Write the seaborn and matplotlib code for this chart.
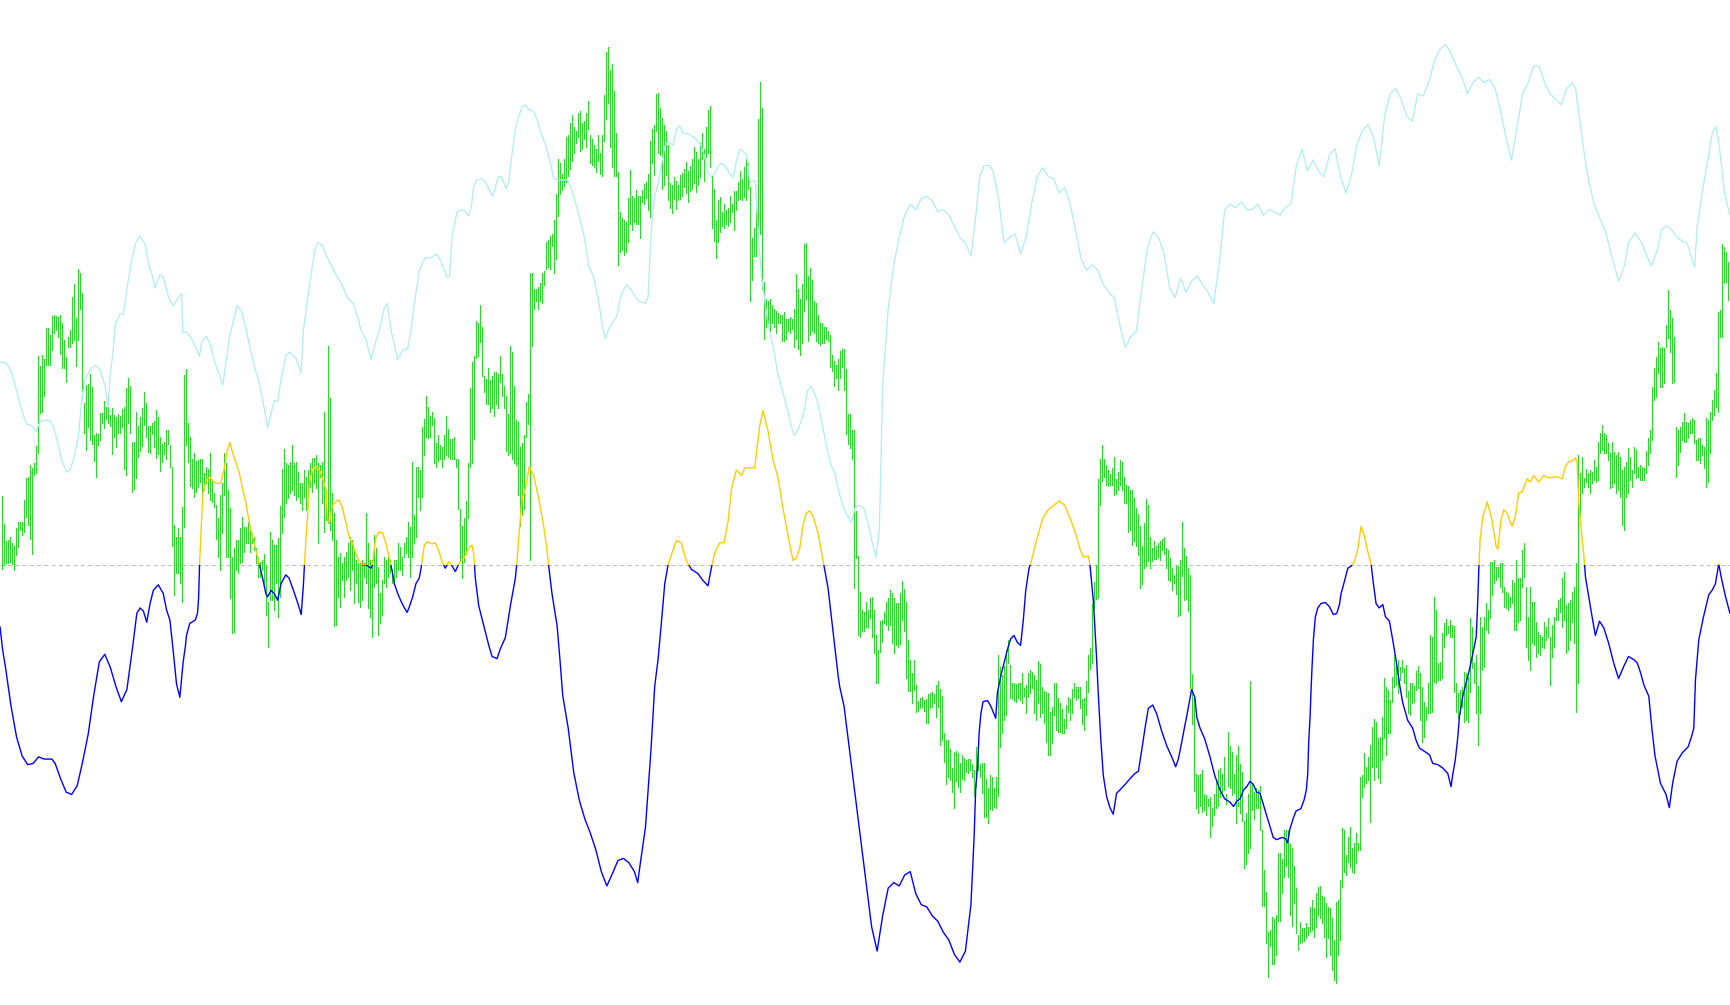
import numpy as np
import pandas as pd
import seaborn as sns
import matplotlib.pyplot as plt
from matplotlib.patches import Rectangle

W, H = 1730, 1005

# price bars, top / bottom (0 = top edge)
# even_* = bars 0, 2, 4, ... ; odd_* = the bars in between
even_top = [
    496, 541, 537, 546, 522, 522, 478, 465, 463, 356, 355, 328, 335, 315, 317, 323, 357, 330, 284, 269,
    293, 385, 374, 435, 434, 413, 407, 415, 415, 414, 409, 388, 386, 442, 426, 408, 403, 426, 421, 417,
    444, 430, 445, 525, 528, 507, 369, 437, 453, 460, 459, 467, 453, 493,
    518, 483, 463, 508, 548, 540, 517, 527, 530, 537, 557, 560, 565, 532, 545, 538, 469, 463, 462, 463,
    472, 483, 477, 463, 458, 463, 462, 490, 398, 513, 557, 563, 552, 537, 548, 563, 560, 513, 560, 535,
    567, 580, 560, 560, 560, 543, 557, 537, 527, 515, 467, 427, 396, 416,
    418, 435, 447, 416, 439, 437, 459, 526, 501, 388, 356, 323, 327, 379, 380, 372, 374, 374, 396, 346,
    386, 422, 443, 402, 273, 289, 287, 273, 242, 236, 220, 159, 174, 137, 123, 127, 113, 123, 113, 135,
    145, 135, 135, 52, 70, 91, 172, 218, 222, 170, 198, 196, 190, 182,
    141, 125, 93, 118, 131, 183, 177, 185, 173, 162, 166, 147, 159, 133, 127, 106, 189, 200, 212, 210,
    196, 191, 182, 179, 159, 187, 228, 119, 108, 299, 299, 309, 313, 315, 319, 317, 309, 289, 284, 243,
    268, 301, 315, 323, 327, 335, 361, 359, 349, 369, 414, 430, 556, 610,
    602, 598, 610, 650, 620, 602, 590, 598, 603, 581, 602, 660, 660, 701, 697, 699, 693, 694, 681, 696,
    740, 749, 752, 753, 755, 760, 759, 770, 747, 763, 779, 775, 788, 655, 675, 650, 665, 683, 683, 673,
    685, 670, 675, 661, 687, 692, 712, 683, 698, 709, 705, 699, 683, 687,
    699, 681, 648, 582, 479, 445, 465, 474, 457, 472, 462, 485, 490, 498, 514, 546, 499, 537, 541, 543,
    539, 548, 558, 575, 566, 522, 556, 575, 695, 775, 770, 795, 797, 794, 770, 774, 794, 746, 774, 746,
    772, 813, 681, 792, 790, 830, 892, 930, 919, 853, 859, 830, 844, 866,
    935, 928, 923, 907, 908, 887, 896, 903, 908, 940, 900, 828, 855, 827, 843, 843, 775, 767, 745, 719,
    738, 717, 687, 700, 655, 660, 660, 665, 683, 686, 666, 687, 707, 635, 597, 663, 633, 619, 620, 626,
    693, 687, 673, 618, 663, 686, 627, 603, 562, 560, 567, 563, 592, 597,
    583, 578, 550, 587, 587, 602, 632, 637, 627, 637, 617, 600, 578, 605, 600, 587, 455, 457, 469, 470,
    460, 442, 425, 435, 453, 452, 452, 470, 462, 457, 447, 467, 467, 451, 430, 368, 342, 347, 325, 310,
    337, 430, 422, 422, 420, 420, 438, 445, 418, 412, 390, 312, 244, 252, 280,
]
even_bot = [
    569, 563, 562, 570, 547, 535, 517, 539, 475, 453, 412, 365, 365, 333, 337, 368, 382, 347, 340, 340,
    398, 450, 440, 461, 445, 423, 419, 426, 437, 433, 427, 475, 433, 489, 457, 446, 437, 453, 447, 454,
    462, 459, 467, 595, 573, 602, 445, 486, 497, 487, 495, 483, 500, 507,
    557, 533, 557, 598, 632, 573, 562, 543, 552, 550, 577, 570, 615, 600, 610, 617, 533, 503, 493, 495,
    497, 510, 510, 487, 483, 543, 503, 520, 530, 626, 597, 580, 580, 590, 603, 602, 600, 583, 617, 587,
    635, 615, 587, 573, 583, 570, 575, 553, 577, 543, 497, 497, 437, 437,
    463, 461, 467, 455, 459, 459, 509, 578, 554, 467, 439, 356, 376, 404, 412, 416, 408, 396, 451, 453,
    463, 495, 515, 437, 560, 309, 309, 303, 269, 269, 273, 216, 190, 182, 169, 153, 137, 149, 147, 163,
    167, 161, 176, 119, 147, 176, 265, 250, 252, 224, 222, 224, 202, 198,
    217, 175, 153, 189, 175, 208, 199, 200, 196, 193, 191, 183, 185, 159, 157, 167, 241, 242, 226, 224,
    222, 230, 200, 200, 200, 301, 256, 228, 289, 327, 331, 327, 323, 341, 339, 333, 347, 349, 343, 299,
    335, 333, 343, 343, 339, 367, 386, 390, 367, 434, 448, 588, 635, 631,
    627, 618, 653, 683, 642, 625, 625, 653, 647, 620, 678, 691, 690, 711, 707, 723, 708, 703, 707, 740,
    784, 780, 808, 787, 779, 772, 770, 796, 770, 793, 817, 809, 807, 796, 733, 715, 698, 701, 698, 703,
    713, 693, 713, 703, 713, 742, 755, 715, 732, 733, 728, 720, 697, 698,
    724, 715, 669, 609, 598, 481, 485, 485, 495, 490, 490, 503, 530, 541, 555, 584, 566, 568, 559, 557,
    550, 568, 581, 583, 616, 576, 599, 688, 791, 813, 812, 815, 837, 815, 806, 795, 804, 788, 793, 806,
    821, 864, 848, 819, 808, 906, 943, 946, 964, 921, 893, 866, 915, 903,
    950, 942, 938, 932, 937, 915, 923, 957, 955, 980, 955, 887, 875, 867, 873, 850, 797, 783, 822, 780,
    778, 760, 755, 733, 687, 693, 672, 697, 715, 702, 688, 742, 720, 713, 682, 680, 678, 635, 637, 692,
    718, 707, 720, 692, 683, 745, 670, 630, 618, 583, 577, 592, 608, 607,
    630, 622, 587, 647, 670, 645, 653, 647, 640, 685, 647, 620, 627, 653, 640, 643, 683, 493, 482, 493,
    480, 480, 450, 453, 488, 483, 490, 525, 497, 480, 473, 477, 480, 473, 453, 400, 373, 387, 347, 352,
    382, 465, 440, 442, 433, 443, 460, 455, 487, 453, 415, 412, 337, 282, 307,
]
odd_top = [
    524, 540, 543, 528, 522, 500, 477, 468, 446, 366, 359, 328, 316, 316, 315, 340, 337, 297, 318, 273,
    403, 384, 387, 433, 413, 401, 397, 408, 417, 416, 407, 378, 442, 412, 417, 392, 426, 423, 410, 437,
    442, 430, 467, 537, 537, 375, 423, 459, 461, 459, 473, 469, 480, 505,
    495, 453, 490, 557, 540, 528, 527, 522, 533, 548, 562, 554, 602, 540, 545, 506, 449, 465, 445, 462,
    483, 470, 470, 458, 455, 465, 412, 346, 493, 540, 553, 557, 543, 540, 560, 563, 563, 543, 560, 548,
    593, 557, 557, 570, 560, 547, 543, 522, 462, 467, 470, 419, 407, 412,
    443, 445, 435, 429, 439, 459, 509, 518, 463, 362, 321, 305, 376, 368, 376, 372, 356, 386, 414, 352,
    420, 447, 435, 394, 273, 289, 283, 271, 240, 234, 194, 163, 159, 135, 115, 131, 111, 121, 101, 139,
    149, 153, 95, 47, 64, 133, 212, 220, 198, 196, 190, 196, 184, 174,
    129, 94, 108, 125, 145, 185, 181, 175, 169, 171, 159, 152, 143, 149, 110, 175, 220, 197, 204, 208,
    204, 191, 171, 167, 163, 238, 210, 82, 282, 301, 305, 311, 315, 312, 319, 319, 274, 299, 244, 276,
    280, 303, 323, 327, 331, 355, 365, 351, 349, 414, 430, 511, 592, 612,
    610, 597, 635, 621, 612, 598, 593, 603, 593, 589, 640, 673, 685, 698, 700, 694, 692, 685, 689, 733,
    740, 768, 751, 763, 758, 759, 764, 747, 764, 763, 788, 777, 777, 667, 666, 640, 683, 684, 683, 688,
    673, 672, 680, 664, 691, 693, 707, 683, 703, 719, 697, 689, 687, 687,
    698, 655, 604, 565, 459, 459, 470, 468, 479, 460, 477, 486, 490, 508, 526, 523, 505, 548, 546, 541,
    537, 550, 568, 565, 560, 548, 568, 674, 774, 774, 794, 799, 808, 781, 768, 757, 732, 752, 755, 764,
    821, 794, 784, 788, 786, 870, 932, 917, 915, 853, 830, 830, 848, 888,
    922, 928, 927, 900, 893, 886, 897, 907, 918, 902, 880, 830, 837, 848, 833, 777, 753, 757, 727, 722,
    737, 678, 690, 677, 662, 667, 668, 691, 683, 671, 673, 702, 683, 637, 610, 662, 623, 626, 625, 683,
    690, 672, 677, 627, 655, 617, 617, 610, 562, 567, 563, 587, 593, 580,
    560, 578, 543, 617, 602, 622, 635, 622, 618, 625, 608, 598, 572, 603, 592, 563, 473, 478, 473, 472,
    467, 433, 433, 443, 442, 455, 457, 467, 448, 470, 450, 465, 468, 438, 387, 357, 348, 348, 290, 318,
    427, 427, 413, 423, 418, 440, 438, 447, 420, 400, 373, 310, 247, 262,
]
odd_bot = [
    565, 563, 564, 555, 530, 532, 525, 554, 473, 413, 396, 365, 350, 330, 354, 368, 347, 343, 366, 309,
    433, 427, 444, 477, 440, 428, 423, 454, 447, 433, 469, 423, 492, 478, 451, 425, 452, 434, 458, 471,
    454, 444, 546, 573, 583, 527, 462, 488, 492, 482, 490, 493, 502, 539,
    570, 495, 557, 633, 570, 563, 552, 543, 543, 563, 577, 587, 647, 600, 583, 597, 517, 498, 490, 500,
    503, 497, 502, 492, 488, 477, 532, 523, 540, 625, 607, 597, 577, 570, 583, 607, 577, 608, 637, 583,
    623, 583, 577, 583, 577, 570, 557, 557, 557, 537, 510, 455, 438, 425,
    467, 459, 459, 457, 459, 467, 560, 562, 518, 463, 358, 342, 392, 404, 408, 404, 382, 408, 455, 459,
    465, 526, 509, 424, 346, 301, 301, 285, 267, 246, 259, 194, 186, 176, 161, 143, 151, 139, 129, 165,
    172, 174, 141, 103, 167, 176, 252, 255, 242, 230, 224, 238, 204, 210,
    163, 131, 155, 185, 200, 213, 209, 199, 187, 202, 189, 192, 177, 181, 153, 228, 258, 232, 228, 226,
    212, 210, 199, 197, 189, 280, 256, 234, 339, 323, 323, 333, 323, 341, 331, 329, 339, 355, 311, 341,
    331, 341, 345, 343, 341, 371, 378, 378, 390, 444, 459, 558, 637, 631,
    628, 637, 683, 652, 623, 630, 643, 645, 644, 631, 691, 703, 712, 708, 711, 723, 707, 717, 745, 762,
    777, 792, 781, 792, 780, 773, 777, 787, 777, 817, 823, 810, 808, 747, 720, 663, 699, 702, 700, 696,
    697, 688, 720, 717, 723, 755, 743, 730, 732, 733, 712, 713, 700, 708,
    730, 692, 663, 599, 505, 477, 486, 485, 494, 485, 503, 532, 545, 546, 588, 568, 561, 561, 559, 560,
    554, 580, 590, 594, 615, 600, 611, 724, 808, 806, 810, 806, 826, 808, 797, 790, 786, 795, 823, 813,
    868, 853, 810, 808, 830, 906, 977, 964, 955, 921, 877, 877, 926, 933,
    943, 941, 935, 930, 927, 918, 937, 938, 970, 983, 940, 872, 862, 872, 863, 850, 787, 780, 767, 767,
    783, 738, 733, 702, 685, 680, 683, 713, 703, 690, 720, 737, 713, 712, 683, 680, 647, 633, 637, 712,
    713, 722, 722, 668, 713, 713, 667, 633, 595, 580, 587, 607, 610, 603,
    630, 620, 577, 660, 643, 657, 655, 648, 637, 657, 620, 612, 620, 650, 622, 712, 525, 487, 487, 483,
    482, 453, 453, 460, 487, 493, 497, 530, 493, 487, 478, 480, 480, 465, 440, 397, 387, 383, 338, 383,
    477, 452, 442, 438, 433, 460, 463, 468, 482, 420, 407, 337, 283, 300,
]

# indicator lines, read on the 1568 x 911 preview of the chart
cyan_pts = [
    (0, 328), (6, 329), (10.6, 338), (15, 354), (19.6, 372), (24, 384), (28.7, 386), (32.6, 391),
    (36.3, 382), (40.8, 381), (45.3, 381), (48.3, 387), (51.4, 397), (55.9, 417), (60.4, 428),
    (63.5, 426), (66.5, 417), (71, 396), (74, 363), (77, 344), (81.6, 335), (86.1, 331), (90.6, 335),
    (95.2, 350), (98.2, 369), (99.7, 341), (102.7, 317), (104.2, 295), (108.8, 284), (111.8, 285),
    (114.8, 263), (119.3, 236), (123, 220), (126.3, 214), (131.4, 221), (134.5, 239), (137.5, 248),
    (140.5, 261), (145, 249), (148, 251), (152.6, 269), (157, 277), (161.6, 270), (164.7, 266),
    (165.6, 301), (169.2, 301), (173.7, 307), (178.3, 317), (180.7, 323), (182.8, 310), (186.7, 305),
    (190.3, 311), (194.9, 329), (202, 349), (208, 305), (215, 277), (219, 282), (223, 299),
    (230.5, 332), (235, 347), (241, 378), (242.6, 388), (245.6, 375), (248.6, 363), (251.7, 364),
    (254.7, 344), (259.2, 322), (262.2, 319), (268.3, 325), (272.8, 338), (275, 299), (280, 262),
    (285, 228), (288, 220), (292, 222), (296, 232), (300, 240), (305, 250), (310, 258), (315, 270),
    (320, 275), (325, 290), (327, 299), (331.8, 308), (336.3, 326), (339.3, 314), (343.8, 299),
    (348, 280), (351, 275), (354.4, 299), (360.4, 326), (365, 317), (369.5, 316), (372.5, 299),
    (376, 272), (380, 245), (385, 234), (391.6, 233), (396, 230), (400.6, 239), (405, 251),
    (407.3, 251), (409.7, 215), (414.2, 192), (418.8, 190), (421.8, 192), (424.8, 196), (427.2, 187),
    (429.4, 169), (432.4, 163), (436.9, 162), (440, 165), (443, 171), (446.6, 178), (449, 169),
    (452, 160), (454.4, 160), (456.5, 165), (458.7, 171), (461, 165), (464, 140), (467, 117),
    (470, 106), (473, 97), (476, 95), (479, 99), (483.7, 101), (486.7, 108), (489.8, 119),
    (494.3, 131), (498.8, 147), (501.9, 162), (506.4, 163), (513.9, 163), (517, 169), (520, 178),
    (524.5, 194), (529, 212), (533.6, 241), (538, 251), (542.6, 273), (545.7, 294), (548.7, 307),
    (551.7, 298), (556, 291), (559, 287), (562.3, 269), (565.3, 262), (568.3, 258), (572.8, 264),
    (578.9, 273), (584.9, 275), (587.4, 269), (590.4, 207), (593.4, 178), (596.4, 167), (599.4, 150),
    (602.5, 133), (605.5, 128), (610, 132), (613, 117), (616, 114), (619, 121), (623.6, 121),
    (628, 124), (632.7, 128), (635.7, 133), (638.7, 142), (641.7, 157), (644.7, 160), (647.8, 157),
    (650.8, 151), (653.8, 148), (656.9, 150), (659.9, 155), (664.4, 161), (667.4, 146), (670.4, 135),
    (673.5, 137), (676.5, 140), (678, 150), (679.5, 166), (682.5, 164), (684.6, 164), (687, 207),
    (690, 250), (693, 271), (696, 293), (699, 307), (702, 321), (705, 339), (708, 350), (711, 361),
    (714, 372), (717, 386), (720, 395), (723, 390), (726, 382), (729, 372), (732, 354), (735, 350),
    (738, 356), (741, 364), (744, 379), (747.5, 397), (750.5, 411), (753.5, 422), (756.6, 429),
    (759.6, 443), (762.6, 454), (765.6, 463), (768.6, 468), (771.6, 474), (774.7, 461), (777.7, 458),
    (780.7, 459), (783, 461), (787, 475), (790, 490), (794, 505), (797, 480), (800, 350), (805, 280),
    (810, 240), (815, 215), (820, 195), (825, 185), (830, 190), (835, 180), (840, 178), (845, 182),
    (850, 192), (855, 190), (860, 195), (865, 205), (870, 215), (875, 220), (880, 232), (884, 200),
    (888, 160), (892, 150), (897, 150), (900, 155), (905, 180), (910, 220), (915, 215), (920, 212),
    (925, 230), (930, 215), (935, 185), (940, 160), (945, 152), (950, 160), (955, 162), (960, 175),
    (965, 170), (970, 185), (975, 210), (980, 235), (985, 245), (990, 240), (995, 245), (1000, 258),
    (1005, 265), (1010, 270), (1015, 295), (1020, 315), (1025, 305), (1030, 300), (1035, 260),
    (1040, 225), (1045, 210), (1050, 215), (1055, 230), (1060, 260), (1065, 270), (1070, 252),
    (1075, 265), (1080, 255), (1085, 250), (1090, 258), (1095, 265), (1100, 275), (1105, 240),
    (1110, 190), (1115, 185), (1120, 188), (1125, 183), (1130, 190), (1135, 190), (1140, 185),
    (1145, 195), (1150, 190), (1155, 192), (1160, 195), (1165, 188), (1170, 185), (1175, 150),
    (1180, 135), (1185, 155), (1190, 145), (1195, 155), (1200, 160), (1205, 140), (1210, 135),
    (1215, 160), (1220, 175), (1225, 158), (1230, 130), (1235, 118), (1240, 113), (1245, 125),
    (1250, 150), (1255, 105), (1260, 85), (1265, 80), (1270, 90), (1275, 105), (1280, 110), (1285, 85),
    (1290, 87), (1295, 75), (1300, 55), (1305, 45), (1310, 40), (1315, 48), (1320, 60), (1325, 70),
    (1330, 85), (1335, 75), (1340, 70), (1345, 75), (1350, 72), (1355, 80), (1360, 100), (1365, 125),
    (1370, 145), (1375, 115), (1380, 85), (1385, 75), (1390, 60), (1395, 60), (1400, 75), (1405, 85),
    (1410, 90), (1415, 95), (1420, 80), (1425, 75), (1428, 80), (1432, 110), (1436, 140), (1440, 165),
    (1445, 185), (1450, 198), (1455, 209), (1461, 233), (1467, 255), (1472, 242), (1476, 220),
    (1482, 211), (1488, 220), (1493, 233), (1497, 241), (1502, 227), (1506, 208), (1510, 205),
    (1515, 208), (1519, 214), (1525, 219), (1529, 220), (1534, 236), (1536, 242), (1538, 208),
    (1542, 180), (1547, 150), (1552, 120), (1555, 115), (1558, 130), (1563, 175), (1568, 195),
]
osc_pts = [
    (0, 568), (2.4, 589), (5, 605), (10, 640), (15, 668), (20, 685), (25, 693), (30, 692), (35, 686),
    (40, 688), (47, 688), (50, 692), (55, 706), (60, 718), (65, 720), (70, 712), (75, 690), (80, 665),
    (85, 630), (90, 600), (95, 593), (100, 605), (105, 622), (110, 636), (115, 625), (120, 588),
    (124, 556), (127, 551), (130, 554), (133, 564), (136, 547), (139, 535), (143.5, 530), (148, 538),
    (151, 553), (154, 562), (157, 590), (160, 620), (163, 632), (166, 600), (168, 586), (169, 576),
    (172, 565), (177, 562), (179, 556), (180, 542), (181, 508), (183, 465), (184, 447), (187, 435),
    (190, 432), (193, 436), (196, 438), (200, 438), (203, 426), (206, 408), (208.5, 401), (211, 411),
    (214, 420), (217, 429), (220, 444), (223, 456), (226, 474), (229, 487), (232, 499), (235, 511),
    (238, 524), (241, 538), (242.6, 541), (245.6, 535), (248.6, 538), (251.7, 544), (254.7, 529),
    (259, 521), (262, 524), (267, 538), (270, 547), (273, 557), (275, 530), (276, 511), (277.4, 487),
    (279, 465), (280.4, 438), (283.4, 425), (286.4, 423), (289.4, 426), (292.5, 434), (295.5, 444),
    (297, 471), (298.5, 474), (301, 459), (304, 455), (307, 453), (310, 459), (313.6, 474),
    (316.6, 487), (319.7, 493), (322.7, 502), (325.7, 509), (328.7, 512), (331.8, 512), (334.7, 514),
    (336.3, 515), (337.8, 512), (339.3, 496), (340.8, 487), (343.8, 482), (346.9, 483), (349.9, 493),
    (352.9, 506), (355.3, 517), (357.4, 529), (360.5, 538), (363.5, 545), (366.5, 551), (369, 555),
    (371, 550), (374, 541), (377, 529), (380, 524), (381.6, 515), (383, 505), (384.6, 494),
    (387.6, 491), (391.6, 493), (394.6, 492), (397.6, 499), (400.6, 509), (403.6, 515), (406.7, 509),
    (409.7, 513), (412.7, 518), (415.8, 511), (420.3, 506), (424.8, 497), (427.8, 494), (429.4, 502),
    (430.8, 524), (433.9, 549), (438.4, 567), (443, 585), (446, 595), (450.5, 597), (453.5, 588),
    (458, 578), (462.6, 549), (467.1, 524), (468.6, 509), (470.1, 488), (473.2, 452), (476.2, 443),
    (479.8, 423), (483.7, 431), (488.3, 452), (492.8, 477), (495.8, 499), (497.3, 513), (500.3, 538),
    (504.9, 567), (507.3, 595), (510, 630), (515, 660), (520, 700), (525, 725), (530, 742), (535, 755),
    (540, 770), (545, 790), (550, 803), (555, 792), (560, 780), (565, 778), (570, 782), (575, 790),
    (578, 800), (580, 785), (585, 750), (590, 680), (593.4, 622), (596.4, 598), (599.4, 565),
    (602.5, 529), (605.5, 512), (608.5, 503), (613, 490), (617.5, 492), (622, 508), (626.6, 516),
    (632.7, 520), (637, 526), (641.7, 531), (644.7, 515), (647.8, 501), (652.3, 492), (656.2, 492),
    (660, 472), (663, 443), (667.4, 426), (672, 431), (675, 424), (679.5, 424), (684, 424),
    (688.6, 386), (691.6, 372), (696, 390), (700.7, 417), (705.2, 433), (709.7, 461), (714.3, 486),
    (718.8, 508), (721.8, 506), (724.8, 497), (727.8, 476), (730.8, 465), (733.9, 463), (736.9, 468),
    (741.4, 483), (746, 508), (750.5, 533), (755, 572), (759.6, 612), (761, 622), (765, 640),
    (770, 680), (775, 720), (780, 760), (785, 800), (790, 840), (795, 862), (800, 830), (805, 805),
    (810, 800), (815, 803), (820, 793), (825, 790), (830, 810), (835, 820), (840, 822), (845, 830),
    (850, 835), (855, 845), (860, 852), (865, 865), (870, 872), (875, 862), (880, 820), (882.8, 761),
    (884.4, 713), (886, 695), (887.4, 665), (889, 647), (891, 636), (895, 635), (898, 640),
    (902.5, 651), (904, 628), (907, 613), (910, 601), (913, 589), (916, 579), (919, 576), (922, 582),
    (925, 585), (927.5, 562), (929.7, 535), (932.7, 515), (934.2, 511), (938.8, 492), (945, 470),
    (950, 462), (955, 458), (960, 454), (965, 458), (970, 470), (975, 484), (979, 498), (982, 505),
    (986.5, 504), (988, 513), (991, 545), (993.4, 587), (995.5, 630), (997.7, 670), (1000, 703),
    (1003, 722), (1006, 732), (1009, 738), (1012, 719), (1015, 716), (1019.7, 711), (1024, 706),
    (1028.7, 701), (1031.8, 699), (1034.8, 680), (1037.8, 660), (1040.8, 642), (1044.8, 639),
    (1048.4, 647), (1053, 663), (1057.5, 676), (1062, 686), (1065.6, 695), (1068, 688), (1071, 673),
    (1074, 657), (1076, 647), (1080, 625), (1083, 632), (1084.7, 650), (1087.7, 660), (1092, 670),
    (1096.7, 686), (1101, 703), (1105.8, 716), (1110, 724), (1114.8, 727), (1118, 731), (1121, 726),
    (1124, 724), (1127, 716), (1130, 713), (1133, 708), (1136, 711), (1139, 718), (1142, 719),
    (1145, 729), (1148, 739), (1151, 749), (1154, 759), (1157, 761), (1162, 759), (1165, 760),
    (1167, 764), (1169, 752), (1172, 742), (1174.7, 735), (1179, 733), (1182, 725), (1184, 716),
    (1185.3, 701), (1186.2, 671), (1187.4, 650), (1188.3, 625), (1189.2, 604), (1190.4, 580),
    (1192.2, 559), (1194.4, 551), (1197.3, 547), (1201.3, 546), (1205, 550), (1208.5, 557),
    (1211.6, 556), (1214, 548), (1215.5, 538), (1218.5, 527), (1221.6, 515), (1224.6, 513),
    (1227.6, 509), (1230.6, 498), (1233.6, 477), (1236.6, 486), (1239.7, 500), (1242.7, 511),
    (1244.8, 529), (1247.2, 547), (1250, 551), (1253.3, 548), (1255.7, 559), (1259.3, 563),
    (1262.3, 580), (1265.3, 598), (1268.3, 619), (1271.4, 637), (1275.9, 653), (1280.4, 660),
    (1283.5, 671), (1286.5, 678), (1291, 681), (1295.6, 684), (1298.6, 692), (1303, 693),
    (1307.6, 696), (1312.2, 701), (1315.2, 713), (1316.7, 702), (1319, 689), (1321.3, 668),
    (1322.7, 650), (1325.8, 631), (1328.8, 619), (1331.8, 607), (1335, 592), (1338, 577),
    (1339.4, 544), (1340.3, 517), (1341.5, 489), (1344, 468), (1348, 455), (1352, 470), (1356, 495),
    (1357.5, 498), (1360.5, 471), (1363, 462), (1366, 465), (1368, 471), (1370.5, 477), (1373.5, 468),
    (1376.5, 447), (1379.6, 446), (1382.6, 438), (1384, 434), (1387, 437), (1390, 431), (1394.7, 437),
    (1399, 431), (1403.7, 433), (1411, 432), (1415.8, 434), (1418.8, 423), (1422, 418), (1425, 418),
    (1428, 415), (1429.4, 420), (1431, 456), (1432.4, 471), (1434, 489), (1435.5, 503), (1437, 523),
    (1440, 541), (1443, 559), (1446, 576), (1449.7, 563), (1453.6, 569), (1458, 583), (1462.6, 601),
    (1467, 615), (1471.7, 604), (1476, 595), (1481, 598), (1484, 601), (1487, 610), (1490, 621),
    (1494.4, 631), (1497.4, 662), (1500, 685), (1505, 710), (1510, 720), (1513, 732), (1516, 710),
    (1520, 690), (1525, 682), (1530, 677), (1533, 668), (1535.2, 660), (1536.7, 616), (1539.7, 580),
    (1544, 559), (1548.8, 539), (1551.8, 535), (1554.8, 529), (1557.8, 511), (1560, 523), (1564, 541),
    (1568, 556),
]
ZERO = 512          # oscillator zero level on the preview
K = W / 1568        # preview units -> chart units

sns.set_theme(style="white")
fig = plt.figure(figsize=(W / 100, H / 100), dpi=100)
ax = fig.add_axes([0, 0, 1, 1])

zero = ZERO * K
ax.axhline(zero, color="#c0c0c0", lw=0.75, ls=(0, (4, 3)), zorder=0)

green = "#22dd22"
ax.vlines(1.5 + 4 * np.arange(len(even_top)), even_top, even_bot,
          color=green, lw=0.5, antialiased=False, zorder=1)
ax.vlines(3.5 + 4 * np.arange(len(odd_top)), odd_top, odd_bot,
          color=green, lw=0.5, antialiased=False, zorder=1)

cyan = pd.DataFrame(cyan_pts, columns=["x", "y"]) * K
sns.lineplot(data=cyan, x="x", y="y", ax=ax, color="#aeeeee", lw=0.9,
             estimator=None, sort=False, zorder=2)

osc = pd.DataFrame(osc_pts, columns=["x", "y"]) * K
for col, (y0, h) in [("#ffcc00", (0, zero)), ("#0000ff", (zero, H - zero))]:
    sns.lineplot(data=osc, x="x", y="y", ax=ax, color=col, lw=1.0,
                 estimator=None, sort=False, zorder=3)
    ax.lines[-1].set_clip_path(Rectangle((0, y0), W, h, transform=ax.transData))

ax.set_xlim(0, W)
ax.set_ylim(H, 0)
ax.set_axis_off()
fig.savefig("out.png", dpi=100)
